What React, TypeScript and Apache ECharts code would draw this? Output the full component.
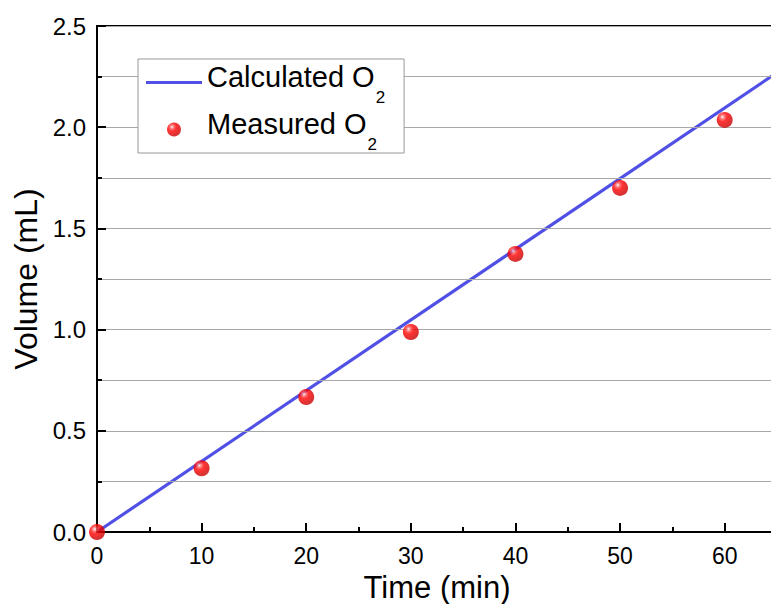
import React, { useEffect, useRef } from "react";
import * as echarts from "echarts";

const calcTime = [0, 65];
const calcVolume = [0, 2.27];
const measTime = [0, 10, 20, 30, 40, 50, 60];
const measVolume = [0, 0.315, 0.667, 0.988, 1.374, 1.7, 2.036];
const xTickLabels = ["0", "10", "20", "30", "40", "50", "60"];
const yTickLabels = ["0.0", "0.5", "1.0", "1.5", "2.0", "2.5"];

const FONT = "'Liberation Sans', Arial, Helvetica, sans-serif";

export default function App() {
  const ref = useRef<HTMLDivElement>(null);
  useEffect(() => {
    document.body.style.margin = "0";
    const chart = echarts.init(ref.current!, undefined, { renderer: "svg" });
    const sphere = {
      type: "radial",
      x: 0.36,
      y: 0.32,
      r: 0.7,
      colorStops: [
        { offset: 0, color: "#ffffff" },
        { offset: 0.18, color: "#ff6060" },
        { offset: 0.42, color: "#ff0000" },
        { offset: 1, color: "#c40000" },
      ],
    };
    chart.setOption({
      animation: false,
      backgroundColor: "#fff",
      grid: {
        left: 97,
        top: 26,
        width: 680,
        height: 506,
        outerBoundsMode: "none",
        containLabel: false,
        show: true,
        borderColor: "#000",
        borderWidth: 2,
      },
      legend: {
        orient: "vertical",
        left: 138,
        top: 59,
        padding: [0, 19, 0, 8],
        itemGap: 0,
        itemWidth: 56,
        itemHeight: 14,
        borderColor: "#999",
        borderWidth: 1,
        backgroundColor: "#fff",
        data: [
          { name: "Calculated O2", icon: "path://M0 0H56V3.2H0Z" },
          { name: "Measured O2", icon: "circle" },
        ],
        formatter: (name: string) => "{a|" + name.slice(0, -1) + "}{s|2}",
        textStyle: {
          rich: {
            a: { fontSize: 29, fontFamily: FONT, color: "#000", lineHeight: 29, padding: [0, 0, 12, 0] },
            s: { fontSize: 17, fontFamily: FONT, color: "#000", lineHeight: 18, padding: [30, 0, 0, 1] },
          },
        },
      },
      xAxis: {
        type: "value",
        min: 0,
        max: 65,
        interval: 10,
        name: "Time (min)",
        nameLocation: "middle",
        nameGap: 35,
        nameTextStyle: { fontSize: 31, lineHeight: 31, fontFamily: FONT, color: "#000" },
        axisLine: { show: true, lineStyle: { color: "#000", width: 2 } },
        axisTick: { show: true, inside: true, length: 9, lineStyle: { color: "#000", width: 2 } },
        minorTick: { show: true, splitNumber: 2, length: 5, lineStyle: { color: "#000", width: 2 } },
        splitLine: { show: false },
        axisLabel: {
          margin: 12,
          fontSize: 23,
          fontFamily: FONT,
          color: "#000",
          formatter: (v: number) => {
            const i = xTickLabels.indexOf(String(v));
            return i >= 0 ? xTickLabels[i] : "";
          },
        },
        z: 3,
      },
      yAxis: {
        type: "value",
        min: 0,
        max: 2.5,
        interval: 0.5,
        name: "Volume (mL)",
        nameLocation: "middle",
        nameGap: 55,
        nameTextStyle: { fontSize: 32, fontFamily: FONT, color: "#000" },
        axisLine: { show: true, lineStyle: { color: "#000", width: 2 } },
        axisTick: { show: true, inside: true, length: 9, lineStyle: { color: "#000", width: 2 } },
        minorTick: { show: true, splitNumber: 2, length: 5, lineStyle: { color: "#000", width: 2 } },
        splitLine: { show: true, lineStyle: { color: "#a8a8a8", width: 1 } },
        minorSplitLine: { show: true, lineStyle: { color: "#a8a8a8", width: 1 } },
        axisLabel: {
          margin: 11,
          fontSize: 24,
          fontFamily: FONT,
          color: "#000",
          formatter: (v: number) => {
            const s = v.toFixed(1);
            return yTickLabels.indexOf(s) >= 0 ? s : "";
          },
        },
        z: 3,
      },
      series: [
        {
          name: "Calculated O2",
          type: "line",
          data: calcTime.map((t, i) => [t, calcVolume[i]]),
          symbol: "none",
          lineStyle: { color: "#5050e6", width: 3.2 },
          itemStyle: { color: "#5050e6" },
          z: 2,
        },
        {
          name: "Measured O2",
          type: "scatter",
          data: measTime.map((t, i) => [t, measVolume[i]]),
          symbol: "circle",
          symbolSize: 16,
          itemStyle: { color: sphere },
          z: 4,
        },
      ],
    });
    return () => chart.dispose();
  }, []);
  return <div ref={ref} style={{ width: 771, height: 604 }} />;
}
